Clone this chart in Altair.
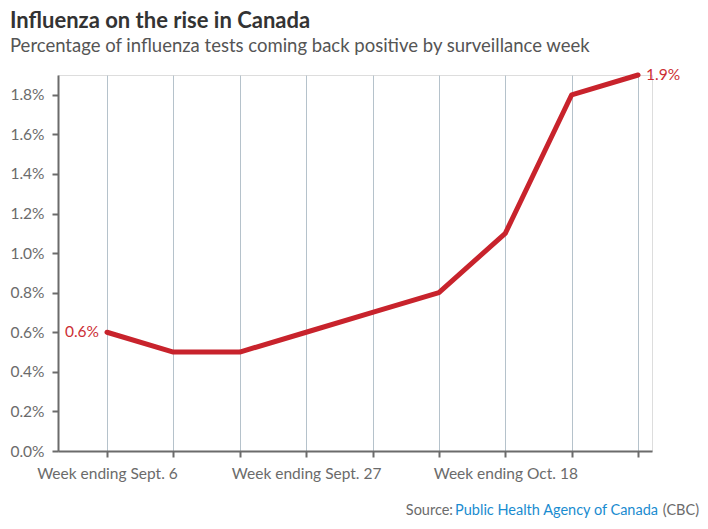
import altair as alt
import pandas as pd

weeks = ["Week ending Sept. 6", "Week ending Sept. 13", "Week ending Sept. 20",
         "Week ending Sept. 27", "Week ending Oct. 4", "Week ending Oct. 11",
         "Week ending Oct. 18", "Week ending Oct. 25", "Week ending Nov. 1"]
values = [0.6, 0.5, 0.5, 0.6, 0.7, 0.8, 1.1, 1.8, 1.9]
shown_labels = ["Week ending Sept. 6", "Week ending Sept. 27", "Week ending Oct. 18"]
y_ticks = [0, 0.2, 0.4, 0.6, 0.8, 1.0, 1.2, 1.4, 1.6, 1.8]

df = pd.DataFrame({"idx": list(range(len(weeks))), "week": weeks, "pct": values})

label_map = {i: (w if w in shown_labels else "") for i, w in enumerate(weeks)}
label_expr = " : ".join([f"datum.value == {i} ? '{l}'" for i, l in label_map.items()]) + " : ''"

FONT = "Lato"
GRAY = "#6b6b6b"
RED = "#c8232c"
FS = 15.5
SFS = 14.5

x = alt.X("idx:Q",
          scale=alt.Scale(domain=[-0.738, 8.21], nice=False, zero=False),
          axis=alt.Axis(values=list(range(len(weeks))), labelExpr=label_expr,
                        title=None, grid=True, gridColor="#b5c2cb", gridWidth=1,
                        domainColor=GRAY, domainWidth=2, tickColor=GRAY, tickWidth=2,
                        tickSize=6, labelPadding=9, labelColor=GRAY, labelFont=FONT,
                        labelFontSize=FS, labelAlign="center", labelFlush=False,
                        labelOverlap=False))
y = alt.Y("pct:Q",
          scale=alt.Scale(domain=[0, 1.9], nice=False),
          axis=alt.Axis(values=y_ticks,
                        labelExpr="format(datum.value, '.1f') + '%'",
                        title=None, grid=False,
                        domainColor=GRAY, domainWidth=2, tickColor=GRAY, tickWidth=2,
                        tickSize=6, labelPadding=8, labelColor=GRAY, labelFont=FONT,
                        labelFontSize=FS))

base = alt.Chart(df)

line = base.mark_line(color=RED, strokeWidth=5, strokeCap="round", strokeJoin="round").encode(x=x, y=y)

first = base.transform_filter("datum.idx == 0").transform_calculate(
    label="format(datum.pct, '.1f') + '%'").mark_text(
    align="right", dx=-8, color="#cc2e35", font=FONT, fontSize=FS).encode(
    x="idx:Q", y="pct:Q", text=alt.Text("label:N"))
last = base.transform_filter(f"datum.idx == {len(weeks)-1}").transform_calculate(
    label="format(datum.pct, '.1f') + '%'").mark_text(
    align="left", dx=8, color="#cc2e35", font=FONT, fontSize=FS).encode(
    x="idx:Q", y="pct:Q", text=alt.Text("label:N"))

src1 = alt.Chart(pd.DataFrame({"t": ["Source:"]})).mark_text(
    align="right", baseline="middle", color=GRAY, font=FONT, fontSize=SFS).encode(
    x=alt.value(395), y=alt.value(436), text="t:N")
src2 = alt.Chart(pd.DataFrame({"t": ["Public Health Agency of Canada"]})).mark_text(
    align="right", baseline="middle", color="#1a8cd0", font=FONT, fontSize=SFS).encode(
    x=alt.value(600), y=alt.value(436), text="t:N")
src3 = alt.Chart(pd.DataFrame({"t": ["(CBC)"]})).mark_text(
    align="right", baseline="middle", color=GRAY, font=FONT, fontSize=SFS).encode(
    x=alt.value(641), y=alt.value(436), text="t:N")

chart = alt.layer(line, first, last, src1, src2, src3).properties(
    width=594, height=376,
    autosize=alt.AutoSizeParams(type="none"),
    padding={"left": 50, "top": 67, "right": 48, "bottom": 68},
    title=alt.TitleParams(
        text="Influenza on the rise in Canada",
        subtitle="Percentage of influenza tests coming back positive by surveillance week",
        anchor="start", frame="group", dx=-48, font=FONT, fontSize=22, fontWeight="bold",
        color="#333333", subtitleFont=FONT, subtitleFontSize=18.5, subtitleColor="#555555",
        subtitlePadding=4, offset=12),
).configure_view(stroke=None).configure(background="white")

chart.save("out.html", embed_options={"renderer": "svg", "actions": False})
